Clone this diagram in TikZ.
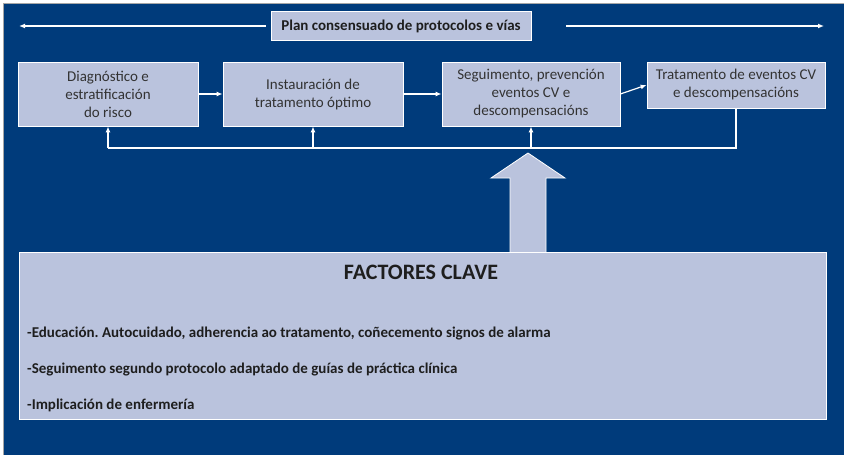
\documentclass[tikz,border=0pt]{standalone}
\usepackage{fontspec}
\setmainfont{Carlito}
\usetikzlibrary{arrows.meta}
\frenchspacing
\definecolor{navy}{HTML}{003B7B}
\definecolor{boxfill}{HTML}{BAC3DD}
\definecolor{boxtext}{HTML}{333333}
\definecolor{darktext}{HTML}{1E1E1E}
\tikzset{
  stepbox/.style={draw=white, line width=0.8pt, fill=boxfill, text=boxtext, align=center,
    font=\fontsize{15}{18}\selectfont, inner sep=0pt},
  flow/.style={draw=white, line width=1.2pt, -{Latex[length=6pt,width=5pt]}},
  plain/.style={draw=white, line width=1.2pt},
  bullet/.style={text=darktext, font=\bfseries\fontsize{15}{18}\selectfont, anchor=west, inner sep=0pt},
}
\begin{document}
\begin{tikzpicture}[x=1pt,y=-1pt]
\useasboundingbox (0,0) rectangle (844,455);
\fill[white] (0,0) rectangle (844,455);
\fill[navy] (4,4) rectangle (844,455);
\draw[gray!70, line width=1pt] (3.5,455) -- (3.5,3.5) -- (844,3.5);

% title
\node[stepbox, minimum width=260pt, minimum height=29pt, text=darktext,
  font=\bfseries\fontsize{15}{18}\selectfont] (title) at (401,26) {Plan consensuado de protocolos e vías};
\coordinate (lt) at (19,26);
\coordinate (rt) at (824,26);
\draw[flow] ([xshift=-5pt]title.west) -- (lt);
\draw[flow] ([xshift=35pt]title.east) -- (rt);

% boxes
\node[stepbox, minimum width=180pt, minimum height=64pt] (b1) at (108,94) {Diagnóstico e\\estratificación\\do risco};
\node[stepbox, minimum width=180pt, minimum height=64pt] (b2) at (313,94) {Instauración de\\tratamento óptimo};
\node[stepbox, minimum width=178pt, minimum height=64pt] (b3) at (531,94) {Seguimento, prevención\\eventos CV e\\descompensacións};
\node[stepbox, minimum width=178pt, minimum height=46pt] (b4) at (736,85) {Tratamento de eventos CV\\e descompensacións};

\draw[flow] (b1.east) -- (b2.west);
\draw[flow] (b2.east) -- (b3.west);
\draw[flow] (b3.east) -- (b4.west);

% feedback
\coordinate (fr) at (736,148);
\coordinate (fl) at (108,148);
\coordinate (f2) at (313,148);
\coordinate (f3) at (531,148);
\draw[plain] (b4.south) -- (fr) -- (fl);
\draw[flow] (fl) -- (b1.south);
\draw[flow] (f2) -- (b2.south);
\draw[flow] (f3) -- (b3.south);

% big arrow
\draw[draw=white, line width=0.8pt, fill=boxfill, line join=miter]
  (510,252) -- (510,178) -- (491,178) -- (528,153) -- (565,178) -- (546,178) -- (546,252);

% factors box
\node[stepbox, minimum width=807pt, minimum height=167pt] (fac) at (422.5,335.5) {};
\node[text=darktext, font=\bfseries\fontsize{22}{26}\selectfont, inner sep=0pt] (facT) at (421,272) {FACTORES CLAVE};
\node[bullet] (f1) at (27,334) {-Educación. Autocuidado, adherencia ao tratamento, coñecemento signos de alarma};
\node[bullet] (f2t) at (27,369) {-Seguimento segundo protocolo adaptado de guías de práctica clínica};
\node[bullet] (f3t) at (27,405) {-Implicación de enfermería};
\end{tikzpicture}
\end{document}
